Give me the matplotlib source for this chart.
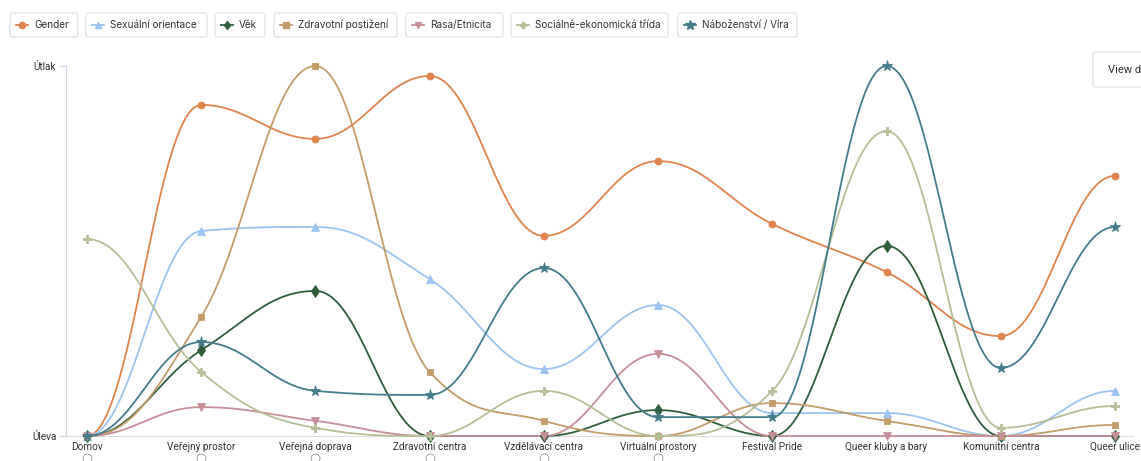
import numpy as np
import matplotlib
matplotlib.use("Agg")
import matplotlib.pyplot as plt
from matplotlib.patches import FancyBboxPatch

categories = ["Domov", "Veřejný prostor", "Veřejná doprava", "Zdravotní centra",
              "Vzdělávací centra", "Virtuální prostory", "Festival Pride",
              "Queer kluby a bary", "Komunitní centra", "Queer ulice"]

gender = [0, 89.5, 80.3, 97.3, 54.1, 74.3, 57.3, 44.3, 27.0, 70.3]
sexualni = [0, 55.4, 56.5, 42.4, 18.1, 35.4, 6.2, 6.2, 0, 12.2]
vek = [0, 23.2, 39.2, 0, 0, 7.0, 0, 51.4, 0, 0]
zdravotni = [0, 32.2, 100, 17.3, 4.1, 0, 8.9, 4.1, 0, 3.0]
rasa = [0, 7.8, 4.1, 0, 0, 22.2, 0, 0, 0, 0]
socialne = [53.2, 17.3, 2.2, 0, 12.2, 0, 12.2, 82.4, 2.2, 8.1]
nabozenstvi = [0, 25.4, 12.2, 11.1, 45.4, 5.1, 5.1, 100, 18.4, 56.5]

series_names = ["Gender", "Sexuální orientace", "Věk", "Zdravotní postižení",
                "Rasa/Etnicita", "Sociálně-ekonomická třída", "Náboženství / Víra"]
series_values = [gender, sexualni, vek, zdravotni, rasa, socialne, nabozenstvi]
colors = ["#E0844E", "#9CC4F0", "#2F5E3D", "#C49C6A", "#C78F98", "#B5BF98", "#437C8B"]
markers = ["o", "^", "d", "s", "v", "P", "*"]
msizes = [5, 5.5, 6.5, 4.8, 5.5, 5.5, 8]
y_labels = ["Úleva", "Útlak"]

W, H = 1141, 461
fig = plt.figure(figsize=(W / 100, H / 100), dpi=100)
ax_l, ax_r, ax_t, ax_b = 66, 1133, 66, 436
ax = fig.add_axes([ax_l / W, (H - ax_b) / H, (ax_r - ax_l) / W, (ax_b - ax_t) / H])
x0px, x9px = 87, 1115
step = (x9px - x0px) / 9
ax.set_xlim(-(x0px - ax_l) / step, 9 + (ax_r - x9px) / step)
ax.set_ylim(0, 100)


def spline_path(xs, ys, smoothing=1.5):
    n = len(xs)
    denom = smoothing + 1
    rc = [None] * n
    lc = [None] * n
    rc[0] = (xs[0] + (xs[1] - xs[0]) / denom, ys[0])
    lc[n - 1] = (xs[n - 1] - (xs[n - 1] - xs[n - 2]) / denom, ys[n - 1])
    for i in range(1, n - 1):
        px, py = xs[i], ys[i]
        lx, ly = xs[i - 1], ys[i - 1]
        nx, ny = xs[i + 1], ys[i + 1]
        lcx = (smoothing * px + lx) / denom
        lcy = (smoothing * py + ly) / denom
        rcx = (smoothing * px + nx) / denom
        rcy = (smoothing * py + ny) / denom
        corr = 0
        if rcx != lcx:
            corr = (rcy - lcy) * (rcx - px) / (rcx - lcx) + py - rcy
        lcy += corr
        rcy += corr
        if lcy > ly and lcy > py:
            lcy = max(ly, py)
            rcy = 2 * py - lcy
        elif lcy < ly and lcy < py:
            lcy = min(ly, py)
            rcy = 2 * py - lcy
        if rcy > ny and rcy > py:
            rcy = max(ny, py)
            lcy = 2 * py - rcy
        elif rcy < ny and rcy < py:
            rcy = min(ny, py)
            lcy = 2 * py - rcy
        lc[i] = (lcx, lcy)
        rc[i] = (rcx, rcy)
    t = np.linspace(0, 1, 60)
    X, Y = [], []
    for i in range(1, n):
        p0 = np.array([xs[i - 1], ys[i - 1]])
        p1 = np.array(rc[i - 1])
        p2 = np.array(lc[i])
        p3 = np.array([xs[i], ys[i]])
        pts = ((1 - t) ** 3)[:, None] * p0 + (3 * (1 - t) ** 2 * t)[:, None] * p1 \
            + (3 * (1 - t) * t ** 2)[:, None] * p2 + (t ** 3)[:, None] * p3
        X.extend(pts[:, 0]); Y.extend(pts[:, 1])
    return np.array(X), np.array(Y)


xs = np.arange(len(categories))
for name, vals, c, m, ms in zip(series_names, series_values, colors, markers, msizes):
    X, Y = spline_path(list(xs), list(vals))
    ax.plot(X, Y, color=c, lw=1.3, clip_on=False, zorder=3, solid_capstyle="round")
    ax.plot(xs, vals, ls="none", marker=m, ms=ms, color=c, mec=c, mew=0.6,
            clip_on=False, zorder=4)

for s in ["top", "right"]:
    ax.spines[s].set_visible(False)
ax.spines["left"].set_color("#CCD6EB")
ax.spines["bottom"].set_color("#DDDDDD")
ax.spines["left"].set_linewidth(0.8)
ax.spines["bottom"].set_linewidth(0.8)
ax.set_yticks([0, 100])
ax.set_yticklabels(y_labels, family=["Roboto", "DejaVu Sans"])
ax.set_xticks(xs)
ax.set_xticklabels(categories, family=["Roboto", "DejaVu Sans"])
ax.tick_params(axis="y", length=4, color="#CCD6EB", labelsize=7.2, labelcolor="#333333", pad=3)
ax.tick_params(axis="x", length=0, labelsize=7.2, labelcolor="#333333", pad=4)

# info icons under some labels
icon_x = [(x0px + i * step) / W for i in range(6)]
fig.lines.append(plt.Line2D(icon_x, [(H - 458) / H] * 6, transform=fig.transFigure,
                            ls="none", marker="o", ms=6.5, mfc="white", mec="#999999", mew=0.6))

# legend boxes
legend_boxes = [(10, 78), (86, 207), (215, 265), (274, 397), (406, 503), (511, 668), (678, 797)]
for (bx0, bx1), name, c, m in zip(legend_boxes, series_names, colors, markers):
    by0, by1 = 13, 37
    box = FancyBboxPatch((bx0 / W, (H - by1) / H), (bx1 - bx0) / W, (by1 - by0) / H,
                         boxstyle="round,pad=0,rounding_size=0.004", transform=fig.transFigure,
                         facecolor="white", edgecolor="#DDDDDD", lw=0.8)
    fig.patches.append(box)
    yc = (H - 25) / H
    fig.lines.append(plt.Line2D([(bx0 + 6) / W, (bx0 + 18) / W], [yc, yc],
                                transform=fig.transFigure, color=c, lw=1.3))
    fig.lines.append(plt.Line2D([(bx0 + 12) / W], [yc], transform=fig.transFigure,
                                color=c, marker=m, ms=4.5 if m != "*" else 7, ls="none"))
    fig.text((bx0 + 24) / W, yc, name, fontsize=7.2, color="#333333", va="center", ha="left",
             family=["Inter", "DejaVu Sans"])

# "View data table" button (partially off canvas, as in the original)
btn = FancyBboxPatch((1093 / W, (H - 87) / H), 70 / W, 35 / H,
                     boxstyle="round,pad=0,rounding_size=0.004", transform=fig.transFigure,
                     facecolor="white", edgecolor="#DDDDDD", lw=0.8, clip_on=False)
fig.patches.append(btn)
fig.text(1108 / W, (H - 70) / H, "View data table", fontsize=8, color="#333333",
         va="center", ha="left", family=["Roboto", "DejaVu Sans"])

fig.savefig("out.png", dpi=100)
